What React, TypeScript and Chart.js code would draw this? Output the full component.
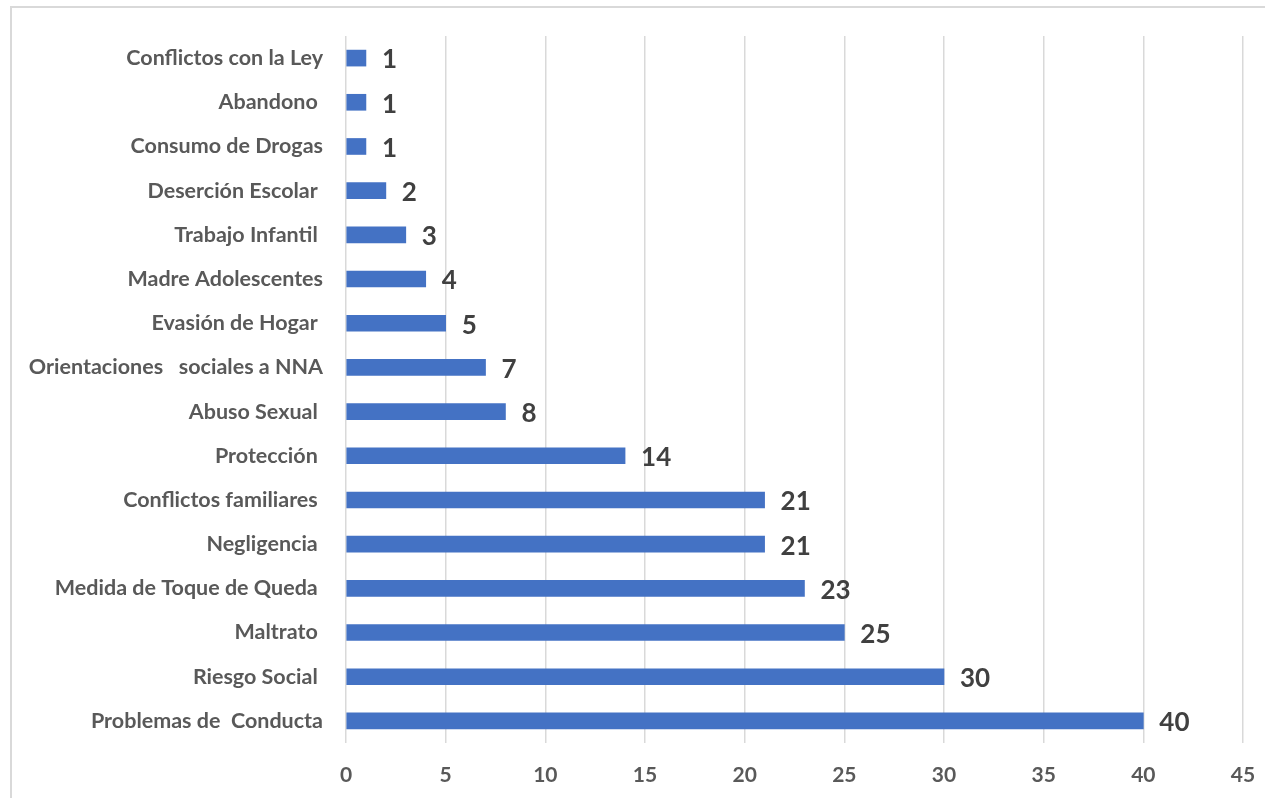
import React, { useEffect, useRef } from "react";
import { Chart, registerables } from "chart.js";

Chart.register(...registerables);

const categories = [
  "Conflictos con la Ley",
  "Abandono ",
  "Consumo de Drogas",
  "Deserción Escolar ",
  "Trabajo Infantil ",
  "Madre Adolescentes",
  "Evasión de Hogar ",
  "Orientaciones   sociales a NNA",
  "Abuso Sexual ",
  "Protección ",
  "Conflictos familiares ",
  "Negligencia ",
  "Medida de Toque de Queda ",
  "Maltrato ",
  "Riesgo Social ",
  "Problemas de  Conducta",
];

const values = [1, 1, 1, 2, 3, 4, 5, 7, 8, 14, 21, 21, 23, 25, 30, 40];

const xTicks = { min: 0, max: 45, step: 5 };

const FONT = "Lato, 'Open Sans', sans-serif";

const valueLabels = {
  id: "valueLabels",
  afterDatasetsDraw(chart: any) {
    const ctx = chart.ctx;
    const meta = chart.getDatasetMeta(0);
    ctx.save();
    ctx.font = `bold 26px ${FONT}`;
    ctx.fillStyle = "#404040";
    ctx.textAlign = "left";
    ctx.textBaseline = "middle";
    meta.data.forEach((bar: any, i: number) => {
      ctx.fillText(String(values[i]), bar.x + 16, bar.y + 2);
    });
    ctx.restore();
  },
};

export default function App() {
  const ref = useRef<HTMLCanvasElement | null>(null);

  useEffect(() => {
    if (!ref.current) return;
    const chart = new Chart(ref.current, {
      type: "bar",
      data: {
        labels: categories,
        datasets: [
          {
            data: values,
            backgroundColor: "#4472C4",
            borderWidth: 0,
            barThickness: 16,
          },
        ],
      },
      options: {
        indexAxis: "y",
        animation: false,
        responsive: false,
        maintainAspectRatio: false,
        layout: { padding: { left: 0, right: 22, top: 36, bottom: 0 } },
        plugins: {
          legend: { display: false },
          tooltip: { enabled: false },
        },
        scales: {
          x: {
            min: xTicks.min,
            max: xTicks.max,
            ticks: {
              stepSize: xTicks.step,
              color: "#595959",
              font: { family: FONT, size: 21, weight: "bold" },
              padding: 20,
            },
            grid: {
              color: "#d9d9d9",
              lineWidth: 1.5,
              drawTicks: false,
            },
            border: { display: false },
            afterFit: (scale: any) => {
              scale.height = 798 - 743;
              scale.paddingLeft = 0;
              scale.paddingRight = 0;
            },
          },
          y: {
            ticks: {
              color: "#595959",
              font: { family: FONT, size: 21.5, weight: "bold" },
              padding: 23,
              autoSkip: false,
            },
            grid: { display: false, drawTicks: false },
            border: { display: false },
            afterFit: (scale: any) => {
              scale.width = 346;
              scale.paddingTop = 0;
              scale.paddingBottom = 0;
            },
          },
        },
      },
      plugins: [valueLabels],
    });
    return () => chart.destroy();
  }, []);

  return (
    <div style={{ position: "fixed", left: 0, top: 0, width: 1265, height: 798, background: "#fff", overflow: "hidden" }}>
      <div
        style={{
          position: "absolute",
          left: 10,
          top: 6,
          width: 1400,
          height: 1000,
          borderLeft: "2px solid #d9d9d9",
          borderTop: "2px solid #d9d9d9",
          boxSizing: "border-box",
        }}
      />
      <canvas ref={ref} width={1265} height={798} style={{ position: "absolute", left: 0, top: 0 }} />
    </div>
  );
}
